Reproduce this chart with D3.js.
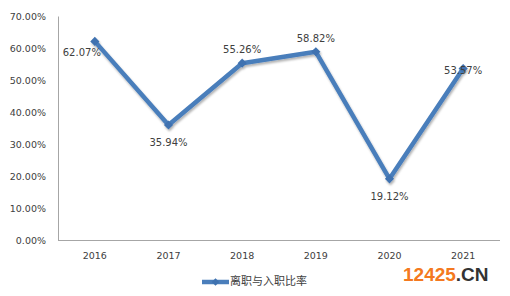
<!DOCTYPE html>
<html><head><meta charset="utf-8">
<script src="https://cdn.jsdelivr.net/npm/d3@7"></script>
<style>html,body{margin:0;padding:0;background:#fff;}svg{display:block;}</style>
</head><body><div id="c"></div>
<script>
const years = ["2016","2017","2018","2019","2020","2021"];
const rates = [62.07, 35.94, 55.26, 58.82, 19.12, 53.57];
const yTicks = [0,10,20,30,40,50,60,70];
const seriesName = "离职与入职比率";
const labelPos = ["lowleft","below","above","above","below","center"];

const W=510,H=296;
const svg=d3.select("#c").append("svg").attr("width",W).attr("height",H);
const x=d3.scaleBand().domain(years).range([58,500]);
const y=d3.scaleLinear().domain([0,70]).range([240,16]);
const font="DejaVu Sans, sans-serif";

const defs=svg.append("defs");
const f=defs.append("filter").attr("id","sh").attr("x","-10%").attr("y","-10%").attr("width","120%").attr("height","130%");
f.append("feDropShadow").attr("dx",1).attr("dy",2).attr("stdDeviation",1.2).attr("flood-color","#000").attr("flood-opacity",0.3);

const ya=svg.append("g").attr("transform","translate(58,0)").call(d3.axisLeft(y).tickValues(yTicks).tickSize(0).tickPadding(12).tickFormat(d=>d.toFixed(2)+"%"));
ya.select(".domain").attr("stroke","#a6a6a6");
ya.selectAll("text").attr("font-family",font).attr("font-size","9.5px").attr("fill","#404040");

const xa=svg.append("g").attr("transform","translate(0,240)").call(d3.axisBottom(x).tickSize(0).tickPadding(12));
xa.select(".domain").attr("stroke","#a6a6a6").attr("d","M58,0.5H500");
xa.selectAll("text").attr("font-family",font).attr("font-size","9.5px").attr("fill","#404040");

const cx=d=>x(d)+x.bandwidth()/2;
const line=d3.line().x((d,i)=>cx(years[i])).y(d=>y(d));
const g=svg.append("g").attr("filter","url(#sh)");
g.append("path").datum(rates).attr("d",line).attr("fill","none").attr("stroke","#4a7ebb").attr("stroke-width",4.5).attr("stroke-linejoin","round");
g.selectAll(".m").data(rates).enter().append("path")
 .attr("d",d3.symbol().type(d3.symbolSquare).size(42))
 .attr("transform",(d,i)=>`translate(${cx(years[i])},${y(d)}) rotate(45)`)
 .attr("fill","#3f72b0");

const off={lowleft:[-13,12],below:[0,18],above:[0,-13],center:[0,2]};
svg.selectAll(".lbl").data(rates).enter().append("text")
 .attr("x",(d,i)=>cx(years[i])+off[labelPos[i]][0])
 .attr("y",(d,i)=>y(d)+off[labelPos[i]][1])
 .attr("text-anchor","middle").attr("dominant-baseline","middle")
 .attr("font-family",font).attr("font-size","10px").attr("fill","#404040")
 .text(d=>d.toFixed(2)+"%");

const lg=svg.append("g");
lg.append("line").attr("x1",202).attr("x2",229).attr("y1",282).attr("y2",282).attr("stroke","#4a7ebb").attr("stroke-width",4.5);
lg.append("path").attr("d",d3.symbol().type(d3.symbolSquare).size(30)).attr("transform","translate(215.5,282) rotate(45)").attr("fill","#3f72b0");
lg.append("text").attr("x",230).attr("y",282).attr("dominant-baseline","middle").attr("font-family","Noto Sans CJK SC, sans-serif").attr("font-size","11px").attr("fill","#404040").text(seriesName);

const wm=svg.append("text").attr("x",403).attr("y",281).attr("font-family","Liberation Sans, Arial, sans-serif").attr("font-weight","bold").attr("font-size","19px");
wm.append("tspan").attr("fill","#f47920").text("12425");
wm.append("tspan").attr("fill","#333").text(".CN");
</script></body></html>
